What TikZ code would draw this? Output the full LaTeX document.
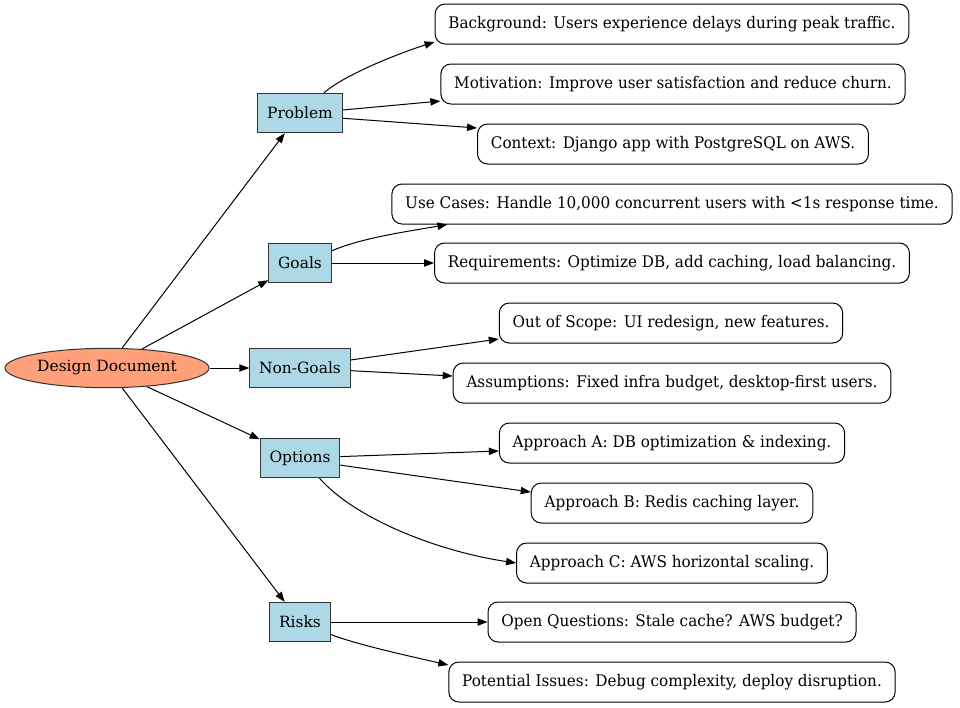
\documentclass[tikz,border=0pt]{standalone}
\usepackage{fontspec}
\setmainfont{DejaVu Serif}
\newfontfamily\leaffont[FakeStretch=0.95]{DejaVu Serif}
\usetikzlibrary{arrows.meta,shapes.geometric}

\begin{document}
\begin{tikzpicture}[x=0.75pt,y=-0.75pt,
  font=\fontsize{11.6pt}{13pt}\selectfont,
  my arrow/.style={
    draw=black, line width=0.75pt,
    -{Triangle[length=7.5pt,width=5.5pt]},
  },
  sec box/.style={
    draw=black!80, line width=0.75pt, fill={rgb,255:red,173;green,216;blue,230},
    rectangle, inner xsep=7pt, minimum height=29.5pt,
  },
  leaf box/.style={
    draw=black, line width=0.75pt, rectangle, rounded corners=7.5pt,
    inner xsep=10pt, minimum height=30pt,
    font=\leaffont\fontsize{12pt}{13pt}\selectfont,
  },
  doc node/.style={
    draw=black!80, line width=0.75pt, fill={rgb,255:red,255;green,160;blue,122},
    ellipse, minimum width=153pt, minimum height=29.5pt, inner sep=0pt,
  }]
  \useasboundingbox (0,0) rectangle (960,707);
  \node[doc node] (doc) at (107,368) {Design Document};
  \node[sec box] (problem) at (300,113) {Problem};
  \node[sec box] (goals) at (300,263) {Goals};
  \node[sec box] (nongoals) at (300,368) {Non-Goals};
  \node[sec box] (options) at (300,458) {Options};
  \node[sec box] (risks) at (300,622) {Risks};
  \node[leaf box] (bg) at (672,24) {Background: Users experience delays during peak traffic.};
  \node[leaf box] (mot) at (673,84) {Motivation: Improve user satisfaction and reduce churn.};
  \node[leaf box] (ctx) at (673,144) {Context: Django app with PostgreSQL on AWS.};
  \node[leaf box] (uc) at (672,204) {Use Cases: Handle 10,000 concurrent users with <1s response time.};
  \node[leaf box] (req) at (672,263) {Requirements: Optimize DB, add caching, load balancing.};
  \node[leaf box] (oos) at (671,323) {Out of Scope: UI redesign, new features.};
  \node[leaf box] (asm) at (672,383) {Assumptions: Fixed infra budget, desktop-first users.};
  \node[leaf box] (appa) at (672,443) {Approach A: DB optimization \& indexing.};
  \node[leaf box] (appb) at (672,503) {Approach B: Redis caching layer.};
  \node[leaf box] (appc) at (672,563) {Approach C: AWS horizontal scaling.};
  \node[leaf box] (oq) at (672,622) {Open Questions: Stale cache? AWS budget?};
  \node[leaf box] (pi) at (672,682) {Potential Issues: Debug complexity, deploy disruption.};
  % trunk
  \draw[my arrow] (doc) -- (problem);
  \draw[my arrow] (doc) -- (goals);
  \draw[my arrow] (doc) -- (nongoals);
  \draw[my arrow] (doc) -- (options);
  \draw[my arrow] (doc) -- (risks);
  % leaves
  \draw[my arrow] (problem.40) .. controls +(20,-18) and +(-35,11) .. ([shift={(0,18)}]bg.west);
  \draw[my arrow] (problem.4) -- ([shift={(0,17)}]mot.west);
  \draw[my arrow] (problem.-7) -- ([shift={(0,-16)}]ctx.west);
  \draw[my arrow] (goals.21) .. controls +(30,-13) and +(-40,7) .. ([shift={(56,0)}]uc.south west);
  \draw[my arrow] (goals) -- (req);
  \draw[my arrow] (nongoals.9) -- ([shift={(0,16)}]oos.west);
  \draw[my arrow] (nongoals.-3) -- ([shift={(0,-7)}]asm.west);
  \draw[my arrow] (options.2) -- ([shift={(0,8)}]appa.west);
  \draw[my arrow] (options.-10) -- ([shift={(0,-11)}]appb.west);
  \draw[my arrow] (options.-46) .. controls +(35,40) and +(-80,-12) .. (appc.west);
  \draw[my arrow] (risks) -- (oq);
  \draw[my arrow] (risks.-22) .. controls +(25,10) and +(-35,-8) .. ([shift={(0,-17)}]pi.west);
\end{tikzpicture}
\end{document}
